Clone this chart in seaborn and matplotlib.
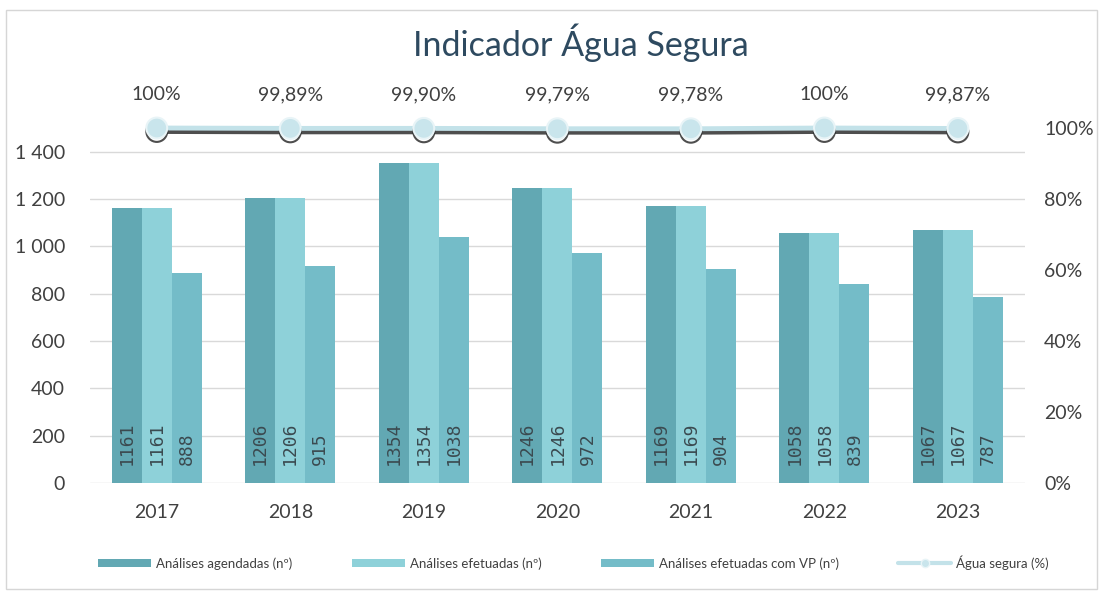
import numpy as np
import pandas as pd
import matplotlib
matplotlib.use("Agg")
import matplotlib.pyplot as plt
import matplotlib.patheffects as pe
from matplotlib.patches import Patch, Rectangle
from matplotlib.lines import Line2D
from matplotlib.ticker import FuncFormatter, PercentFormatter
import seaborn as sns

# Data
years = ["2017", "2018", "2019", "2020", "2021", "2022", "2023"]
agendadas = [1161, 1206, 1354, 1246, 1169, 1058, 1067]
efetuadas = [1161, 1206, 1354, 1246, 1169, 1058, 1067]
efetuadas_vp = [888, 915, 1038, 972, 904, 839, 787]
agua_segura = [1.0, 0.9989, 0.9990, 0.9979, 0.9978, 1.0, 0.9987]
agua_labels = ["100%", "99,89%", "99,90%", "99,79%", "99,78%", "100%", "99,87%"]

series_names = ["Análises agendadas (nº)", "Análises efetuadas (nº)",
                "Análises efetuadas com VP (nº)"]
line_name = "Água segura (%)"
colors = ["#62a8b3", "#8ed1d9", "#74bcc8"]
line_color = "#c3e2e9"

sns.set_theme(style="white")
plt.rcParams["font.family"] = ["Lato", "DejaVu Sans"]

df = pd.DataFrame({
    "ano": years * 3,
    "valor": agendadas + efetuadas + efetuadas_vp,
    "serie": sum([[s] * len(years) for s in series_names], []),
})

fig, ax = plt.subplots(figsize=(11.03, 5.91), dpi=100)
fig.subplots_adjust(left=0.0816, right=0.929, bottom=0.1827, top=0.7834)

sns.barplot(data=df, x="ano", y="valor", hue="serie", palette=colors,
            width=0.675, saturation=1, linewidth=0, ax=ax, legend=False, zorder=2)

ax.set_ylim(0, 1500)
ax.set_xlim(-0.5, len(years) - 0.5)
ax.set_yticks(range(0, 1401, 200))
ax.yaxis.set_major_formatter(FuncFormatter(lambda v, p: f"{int(v):,}".replace(",", " ")))
ax.grid(axis="y", color="#d9d9d9", lw=1, zorder=0)
ax.set_axisbelow(True)
for s in ax.spines.values():
    s.set_visible(False)
ax.tick_params(axis="y", length=0, labelsize=14, colors="#404040", pad=18)
ax.tick_params(axis="x", length=0, labelsize=14, colors="#404040", pad=15)
ax.set_xlabel("")
ax.set_ylabel("")

# value labels, rotated, sitting near the bottom of each bar
for cont in ax.containers:
    for patch in cont.patches:
        h = patch.get_height()
        ax.annotate(f"{int(round(h))}", (patch.get_x() + patch.get_width() / 2, 0),
                    xytext=(0, 13), textcoords="offset points",
                    rotation=90, ha="center", va="bottom", fontsize=13,
                    family="DejaVu Sans Mono", color="#3b4a50", zorder=3)

# secondary axis with the percentage line
ax2 = ax.twinx()
xpos = np.arange(len(years))
sns.lineplot(x=xpos, y=agua_segura, ax=ax2, color=line_color, lw=3.5,
             marker="o", markersize=15, markerfacecolor="#c9e5ec",
             markeredgecolor="#e8f4f7", markeredgewidth=1.5, clip_on=False,
             zorder=5,
             path_effects=[pe.SimpleLineShadow(offset=(0, -2.5), shadow_color="#222222", alpha=0.8),
                           pe.Normal()])
ax2.set_ylim(0, 1.0)
ax2.set_yticks(np.arange(0, 1.01, 0.2))
ax2.yaxis.set_major_formatter(PercentFormatter(1.0, decimals=0))
ax2.tick_params(axis="y", length=0, labelsize=14, colors="#404040", pad=14)
for s in ax2.spines.values():
    s.set_visible(False)
ax2.grid(False)
for x, y, lab in zip(xpos, agua_segura, agua_labels):
    ax2.annotate(lab, (x, y), xytext=(0, 18), textcoords="offset points",
                 ha="center", va="bottom", fontsize=14, color="#404040")

fig.suptitle("Indicador Água Segura", x=0.527, y=0.96, fontsize=24.5, color="#2e4a60")

handles = [Patch(facecolor=c, edgecolor="none") for c in colors]
handles.append(Line2D([0], [0], color=line_color, lw=3, marker="o", markersize=6,
                      markerfacecolor="#c9e5ec", markeredgecolor="#e8f4f7"))
leg = fig.legend(handles, series_names + [line_name], loc="center",
                 bbox_to_anchor=(0.52, 0.048), ncol=4, frameon=False, fontsize=9.5,
                 handlelength=4.0, handleheight=0.6, columnspacing=4.5,
                 handletextpad=0.4)
for t in leg.get_texts():
    t.set_color("#404040")

fig.patches.append(Rectangle((0.005, 0.003), 0.99, 0.98, transform=fig.transFigure,
                             fill=False, edgecolor="#d6d6d6", lw=1))

fig.savefig("out.png", dpi=100)
